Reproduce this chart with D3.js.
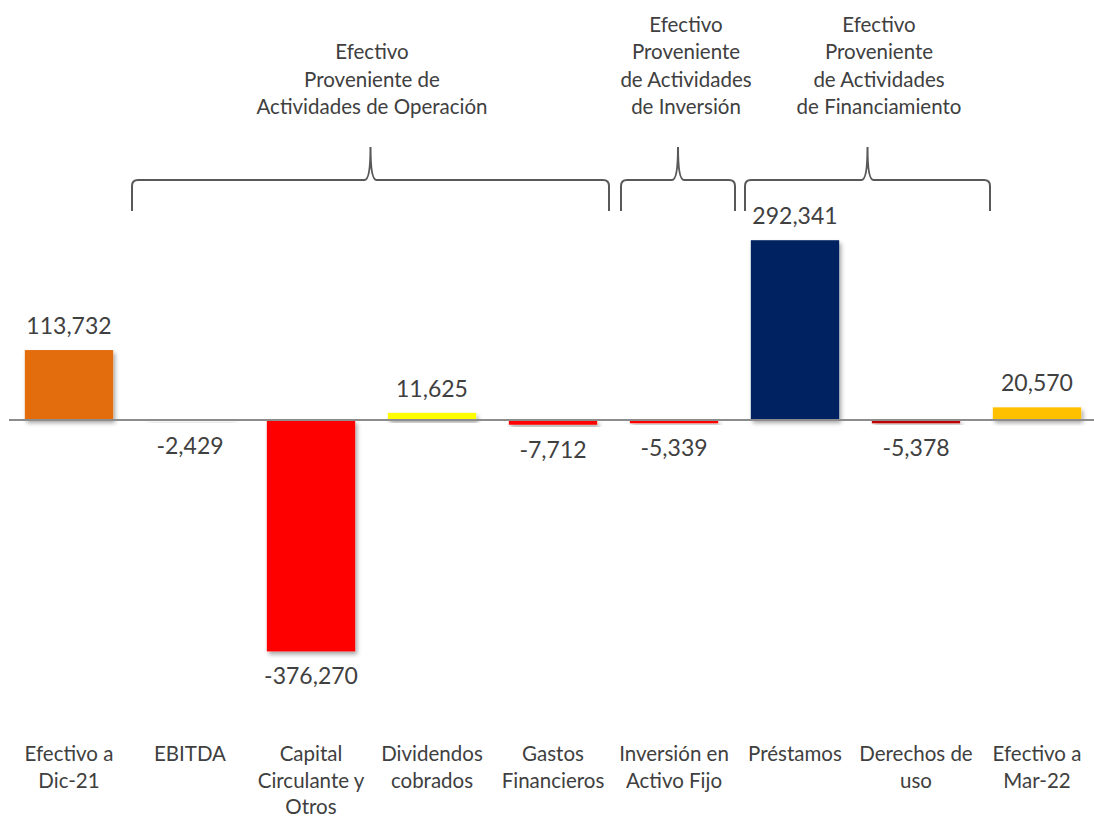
<!DOCTYPE html>
<html><head><meta charset="utf-8">
<script src="https://cdn.jsdelivr.net/npm/d3@7"></script>
<style>body{margin:0;background:#fff}svg{display:block}</style>
</head><body><svg id="c" width="1094" height="817"></svg>
<script>
const categories = [["Efectivo a","Dic-21"],["EBITDA"],["Capital","Circulante y","Otros"],["Dividendos","cobrados"],["Gastos","Financieros"],["Inversión en","Activo Fijo"],["Préstamos"],["Derechos de","uso"],["Efectivo a","Mar-22"]];
const values = [113732, -2429, -376270, 11625, -7712, -5339, 292341, -5378, 20570];
const colors = ["#E36C0A","#F2F2F2","#FF0000","#FFFF00","#FF0000","#FF0000","#002060","#C00000","#FFC000"];
const groupLabels = [
  ["Efectivo","Proveniente de","Actividades de Operación"],
  ["Efectivo","Proveniente","de Actividades","de Inversión"],
  ["Efectivo","Proveniente","de Actividades","de Financiamiento"]
];
// brace layout (pixels): left, right, label center
const braces = [{x0:132,x1:609,tx:372},{x0:621,x1:735,tx:686},{x0:745,x1:990,tx:879}];

const svg = d3.select("#c");
const font = "Lato, 'Open Sans', sans-serif";
const txt = "#404040";
const keys = categories.map((c,i)=>i);
const x = d3.scaleBand().domain(keys).range([8.5,1097.5]).paddingInner(0.27).paddingOuter(0.135);
const y = d3.scaleLinear().domain([-400000,400000]).range([666,174]);
const fmt = d3.formatLocale({decimal:".",thousands:",",grouping:[3],currency:["$",""],minus:"-"}).format(",");

const defs = svg.append("defs");
const f = defs.append("filter").attr("id","sh").attr("x","-20%").attr("y","-20%").attr("width","140%").attr("height","160%");
f.append("feDropShadow").attr("dx",2).attr("dy",3).attr("stdDeviation",2).attr("flood-color","#000").attr("flood-opacity",0.35);

svg.append("g").selectAll("rect").data(values).join("rect")
  .attr("x",(d,i)=>x(i)).attr("width",x.bandwidth())
  .attr("y",d=>y(Math.max(0,d))).attr("height",d=>Math.abs(y(d)-y(0)))
  .attr("fill",(d,i)=>colors[i]).attr("filter","url(#sh)");

svg.append("line").attr("x1",9).attr("x2",1094).attr("y1",y(0)).attr("y2",y(0))
  .attr("stroke","#8c8c8c").attr("stroke-width",2);

svg.append("g").selectAll("text").data(values).join("text")
  .attr("x",(d,i)=>x(i)+x.bandwidth()/2)
  .attr("y",d=>d>=0? y(d)-16 : y(d)+33)
  .attr("text-anchor","middle").attr("font-family",font).attr("font-size",23).attr("fill",txt)
  .text(d=>fmt(d));

// category labels
const cg = svg.append("g");
categories.forEach((lines,i)=>{
  const t = cg.append("text").attr("text-anchor","middle").attr("font-family",font).attr("font-size",20.5).attr("fill",txt);
  lines.forEach((l,j)=>t.append("tspan").attr("x",x(i)+x.bandwidth()/2).attr("y",761+j*26.5).text(l));
});

// braces
const yH=180, yTop=147, yBot=211, r=6, r2=6;
braces.forEach((b,k)=>{
  const xm=(b.x0+b.x1)/2;
  const p = `M${b.x0},${yBot} L${b.x0},${yH+r} Q${b.x0},${yH} ${b.x0+r},${yH} L${xm-r2},${yH} Q${xm},${yH} ${xm},${yTop} Q${xm},${yH} ${xm+r2},${yH} L${b.x1-r},${yH} Q${b.x1},${yH} ${b.x1},${yH+r} L${b.x1},${yBot}`;
  svg.append("path").attr("d",p).attr("fill","none").attr("stroke","#595959").attr("stroke-width",2);
  const lines = groupLabels[k];
  const t = svg.append("text").attr("text-anchor","middle").attr("font-family",font).attr("font-size",20.5).attr("fill",txt);
  const base = 114 - (lines.length-1)*27.5;
  lines.forEach((l,j)=>t.append("tspan").attr("x",b.tx).attr("y",base+j*27.5).text(l));
});
</script></body></html>
